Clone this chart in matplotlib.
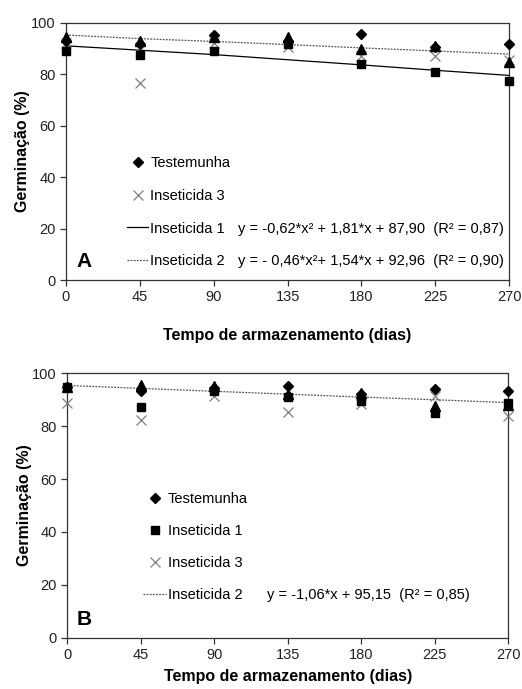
import matplotlib
matplotlib.use('Agg')
import matplotlib.pyplot as plt
from matplotlib.lines import Line2D

plt.rcParams.update({
    'font.family': ['Liberation Sans', 'DejaVu Sans'],
    'font.size': 10.5,
    'axes.linewidth': 0.9,
    'axes.edgecolor': '#333333',
    'xtick.direction': 'out',
    'ytick.direction': 'out',
    'xtick.major.size': 4.5,
    'ytick.major.size': 4.5,
    'xtick.major.width': 0.9,
    'ytick.major.width': 0.9,
    'xtick.color': '#333333',
    'ytick.color': '#333333',
    'xtick.labelsize': 10.5,
    'ytick.labelsize': 10.5,
    'xtick.labelcolor': '#222222',
    'ytick.labelcolor': '#222222',
})

# storage time (days)
days = [0, 45, 90, 135, 180, 225, 270]

# panel A
test_a = [93.0, 91.7, 95.2, 93.0, 95.6, 90.7, 91.7]
ins1_a = [89.1, 87.5, 88.8, 91.7, 84.0, 80.9, 77.4]
ins2_a = [94.5, 93.0, 94.3, 94.6, 89.8, 91.0, 84.6]
ins3_a = [92.0, 76.6, 92.0, 90.4, 87.2, 86.9, 85.3]
fit1_a = [91.0, 89.3, 87.6, 85.6, 83.6, 81.5, 79.5]
fit2_a = [95.2, 93.8, 92.7, 91.5, 90.2, 89.0, 87.8]

# panel B
test_b = [95.0, 93.3, 94.5, 95.2, 92.2, 93.9, 93.3]
ins1_b = [94.9, 87.2, 93.3, 91.1, 89.5, 85.0, 88.6]
ins2_b = [95.0, 95.4, 95.3, 92.0, 92.7, 87.6, 88.0]
ins3_b = [88.9, 82.5, 91.4, 85.4, 88.5, 91.4, 84.0]
fit2_b = [95.4, 94.3, 93.2, 92.1, 91.0, 90.0, 88.9]

eq1_a = 'y = -0,62*x² + 1,81*x + 87,90  (R² = 0,87)'
eq2_a = 'y = - 0,46*x²+ 1,54*x + 92,96  (R² = 0,90)'
eq2_b = 'y = -1,06*x + 95,15  (R² = 0,85)'

XLABEL = 'Tempo de armazenamento (dias)'
YLABEL = 'Germinação (%)'

GRAY_X = '#7f7f7f'
DASH_C = '#555555'

fig = plt.figure(figsize=(5.22, 6.89), dpi=100)
ax_a = fig.add_axes([0.1264, 0.5936, 0.849, 0.3735])
ax_b = fig.add_axes([0.129, 0.0745, 0.845, 0.3837])

mk = dict(linestyle='none', clip_on=False, zorder=3)

# ---- panel A
ax_a.plot(days, fit1_a, color='black', linewidth=0.9, clip_on=False, zorder=2)
ax_a.plot(days, fit2_a, color=DASH_C, linewidth=0.9, linestyle=(0, (1.5, 1)), clip_on=False, zorder=2)
ax_a.plot(days, ins3_a, marker='x', color=GRAY_X, markersize=7, markeredgewidth=0.9, **mk)
ax_a.plot(days, ins1_a, marker='s', color='black', markersize=6, **mk)
ax_a.plot(days, ins2_a, marker='^', color='black', markersize=6.5, **mk)
ax_a.plot(days, test_a, marker='D', color='black', markersize=5, **mk)

handles_a = [
    Line2D([], [], marker='D', color='black', linestyle='none', markersize=5),
    Line2D([], [], marker='x', color=GRAY_X, linestyle='none', markersize=7, markeredgewidth=0.9),
    Line2D([], [], color='black', linewidth=0.9),
    Line2D([], [], color=DASH_C, linewidth=0.9, linestyle=(0, (1.5, 1))),
]
ax_a.legend(handles_a, ['Testemunha', 'Inseticida 3', 'Inseticida 1', 'Inseticida 2'],
            loc='upper left', bbox_to_anchor=(0.138, 0.481), frameon=False,
            handlelength=1.45, handletextpad=0.15, labelspacing=1.28,
            borderpad=0, borderaxespad=0, fontsize=10.5)
ax_a.text(0.388, 0.198, eq1_a, transform=ax_a.transAxes, ha='left', va='center', fontsize=10.5)
ax_a.text(0.388, 0.074, eq2_a, transform=ax_a.transAxes, ha='left', va='center', fontsize=10.5)
ax_a.text(0.041, 0.072, 'A', transform=ax_a.transAxes, ha='center', va='center',
          fontsize=15, fontweight='bold')
ax_a.set_xlabel(XLABEL, fontweight='bold', fontsize=11.5, labelpad=17)

# ---- panel B
ax_b.plot(days, fit2_b, color=DASH_C, linewidth=0.9, linestyle=(0, (1.5, 1)), clip_on=False, zorder=2)
ax_b.plot(days, ins3_b, marker='x', color=GRAY_X, markersize=7, markeredgewidth=0.9, **mk)
ax_b.plot(days, ins2_b, marker='^', color='black', markersize=6.5, **mk)
ax_b.plot(days, test_b, marker='D', color='black', markersize=5, **mk)
ax_b.plot(days, ins1_b, marker='s', color='black', markersize=6, **mk)

handles_b = [
    Line2D([], [], marker='D', color='black', linestyle='none', markersize=5),
    Line2D([], [], marker='s', color='black', linestyle='none', markersize=6),
    Line2D([], [], marker='x', color=GRAY_X, linestyle='none', markersize=7, markeredgewidth=0.9),
    Line2D([], [], color=DASH_C, linewidth=0.9, linestyle=(0, (1.5, 1))),
]
ax_b.legend(handles_b, ['Testemunha', 'Inseticida 1', 'Inseticida 3', 'Inseticida 2'],
            loc='upper left', bbox_to_anchor=(0.172, 0.552), frameon=False,
            handlelength=1.55, handletextpad=0.15, labelspacing=1.25,
            borderpad=0, borderaxespad=0, fontsize=10.5)
ax_b.text(0.453, 0.16, eq2_b, transform=ax_b.transAxes, ha='left', va='center', fontsize=10.5)
ax_b.text(0.038, 0.067, 'B', transform=ax_b.transAxes, ha='center', va='center',
          fontsize=15, fontweight='bold')
ax_b.set_xlabel(XLABEL, fontweight='bold', fontsize=11.5, labelpad=5)

for ax in (ax_a, ax_b):
    ax.set_xlim(0, 270)
    ax.set_ylim(0, 100)
    ax.set_xticks(days)
    ax.set_yticks([0, 20, 40, 60, 80, 100])
    ax.set_ylabel(YLABEL, fontweight='bold', fontsize=11.5, labelpad=0.5)
    ax.tick_params(axis='both', pad=3)

fig.savefig('out.png', dpi=100)
